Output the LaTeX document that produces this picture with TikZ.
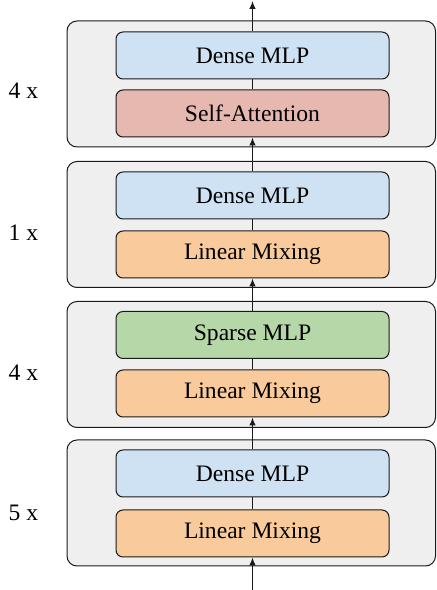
\documentclass[tikz,border=0pt]{standalone}
\usepackage{fontspec}
\setmainfont{Liberation Serif}
\usetikzlibrary{arrows.meta}
\definecolor{blockgray}{HTML}{EFEFEF}
\definecolor{denseblue}{HTML}{CFE2F3}
\definecolor{attnred}{HTML}{E6B8AF}
\definecolor{mixorange}{HTML}{F9CB9C}
\definecolor{sparsegreen}{HTML}{B6D7A8}
\definecolor{edge}{HTML}{1A1A1A}
\begin{document}
\begin{tikzpicture}[x=1pt,y=1pt,
  outerbox/.style={draw=edge,line width=1pt,fill=blockgray,rounded corners=10pt},
  layerbox/.style={draw=edge,line width=1pt,rounded corners=7pt,minimum width=273pt,minimum height=47pt,inner sep=0pt,font=\fontsize{23.6}{28}\selectfont},
  mult/.style={anchor=base,inner sep=0pt,font=\fontsize{23.6}{28}\selectfont},
  flow/.style={draw=edge,line width=1.1pt},
  flowarrow/.style={flow,-{Latex[length=8pt,width=6.5pt]}}]
\useasboundingbox (0,0) rectangle (437,590);
% outer blocks (y = 590 - pixel row)
\node[outerbox,minimum width=368.5pt,minimum height=126pt,inner sep=0pt] (b1) at (251.25,506) {};
\node[outerbox,minimum width=368.5pt,minimum height=126pt,inner sep=0pt] (b2) at (251.25,365.5) {};
\node[outerbox,minimum width=368.5pt,minimum height=126pt,inner sep=0pt] (b3) at (251.25,225.5) {};
\node[outerbox,minimum width=368.5pt,minimum height=126pt,inner sep=0pt] (b4) at (251.25,87) {};
% multipliers
\node[mult] (m1) at (23.5,491) {4 x};
\node[mult] (m2) at (23.5,349) {1 x};
\node[mult] (m3) at (23.5,209) {4 x};
\node[mult] (m4) at (23.5,69.5) {5 x};
% layers
\node[layerbox,fill=denseblue] (d1) at (252.5,534.5) {Dense MLP};
\node[layerbox,fill=attnred] (a1) at (252.5,476.5) {Self-Attention};
\node[layerbox,fill=denseblue] (d2) at (252.5,394.5) {Dense MLP};
\node[layerbox,fill=mixorange] (l2) at (252.5,335.5) {Linear Mixing};
\node[layerbox,fill=sparsegreen] (s3) at (252.5,255) {Sparse MLP};
\node[layerbox,fill=mixorange] (l3) at (252.5,196.5) {Linear Mixing};
\node[layerbox,fill=denseblue] (d4) at (252.5,116.5) {Dense MLP};
\node[layerbox,fill=mixorange] (l4) at (252.5,56.5) {Linear Mixing};
% flow
\coordinate (in) at (252.5,0);
\coordinate (out) at (252.5,589);
\draw[flowarrow] (in) -- (l4.south);
\draw[flow] (l4.north) -- (d4.south);
\draw[flowarrow] (d4.north) -- (l3.south);
\draw[flow] (l3.north) -- (s3.south);
\draw[flowarrow] (s3.north) -- (l2.south);
\draw[flow] (l2.north) -- (d2.south);
\draw[flowarrow] (d2.north) -- (a1.south);
\draw[flow] (a1.north) -- (d1.south);
\draw[flowarrow] (d1.north) -- (out);
\end{tikzpicture}
\end{document}
